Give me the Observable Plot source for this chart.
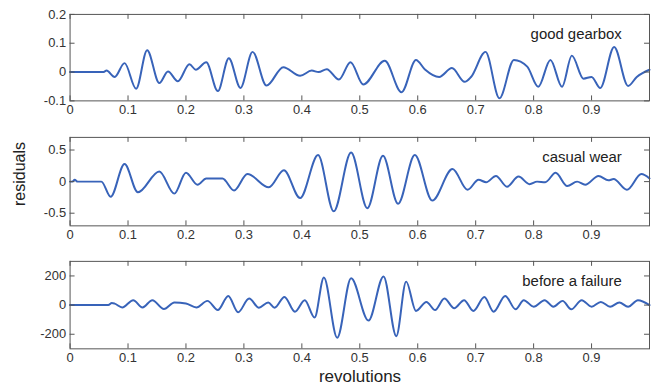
<!DOCTYPE html>
<html><head><meta charset="utf-8">
<script src="https://cdn.jsdelivr.net/npm/d3@7"></script>
<script src="https://cdn.jsdelivr.net/npm/@observablehq/plot@0.6"></script>
<style>
body{margin:0;background:#fff;}
#wrap{position:relative;width:651px;height:389px;overflow:hidden;font-family:"Liberation Sans",Arial,sans-serif;background:#fff;}
#wrap svg{position:absolute;left:0;overflow:visible;}
.lab{position:absolute;color:#222;white-space:nowrap;line-height:1;}
</style></head><body><div id="wrap"></div>
<script>
// shared x ticks (revolutions)
const xTicks = [0, 0.1, 0.2, 0.3, 0.4, 0.5, 0.6, 0.7, 0.8, 0.9];

// panel 1: good gearbox
const goodTitle = "good gearbox";
const goodTicks = [-0.1, 0, 0.1, 0.2];
const goodX = [0, 0.057, 0.063, 0.077, 0.094, 0.114, 0.133, 0.154, 0.169, 0.186, 0.206, 0.217, 0.235, 0.255, 0.274, 0.294, 0.315, 0.339, 0.368, 0.397, 0.417, 0.429, 0.443, 0.464, 0.484, 0.506, 0.543, 0.572, 0.597, 0.612, 0.637, 0.659, 0.681, 0.692, 0.717, 0.741, 0.766, 0.789, 0.808, 0.829, 0.849, 0.866, 0.886, 0.900, 0.915, 0.939, 0.963, 0.978, 1.0];
const goodY = [0, 0, 0.005, -0.017, 0.031, -0.058, 0.076, -0.038, 0.002, -0.032, 0.027, 0.008, 0.034, -0.066, 0.048, -0.055, 0.070, -0.047, 0.017, -0.013, 0.005, 0.0, 0.01, -0.026, 0.034, -0.043, 0.039, -0.07, 0.042, 0.01, -0.017, 0.014, -0.034, -0.017, 0.070, -0.091, 0.042, 0.019, -0.051, 0.042, -0.051, 0.057, -0.023, -0.017, -0.055, 0.087, -0.048, -0.017, 0.008];

// panel 2: casual wear
const wearTitle = "casual wear";
const wearTicks = [-0.5, 0, 0.5];
const wearX = [0, 0.004, 0.008, 0.013, 0.054, 0.070, 0.094, 0.117, 0.154, 0.180, 0.200, 0.220, 0.235, 0.263, 0.283, 0.306, 0.343, 0.369, 0.397, 0.428, 0.455, 0.485, 0.513, 0.540, 0.566, 0.595, 0.625, 0.660, 0.686, 0.705, 0.718, 0.735, 0.754, 0.774, 0.793, 0.806, 0.820, 0.838, 0.858, 0.875, 0.889, 0.912, 0.929, 0.938, 0.961, 0.986, 1.0];
const wearY = [0, 0, 0.03, 0, 0, -0.24, 0.28, -0.17, 0.16, -0.19, 0.14, -0.05, 0.05, 0.05, -0.14, 0.12, -0.09, 0.18, -0.26, 0.42, -0.47, 0.46, -0.42, 0.41, -0.35, 0.42, -0.30, 0.20, -0.13, 0.03, -0.01, 0.09, -0.08, 0.08, -0.04, 0.0, -0.01, 0.14, -0.07, 0.0, -0.05, 0.09, 0.02, 0.04, -0.13, 0.12, 0.05];

// panel 3: before a failure
const failTitle = "before a failure";
const failTicks = [-200, 0, 200];
const failX = [0, 0.066, 0.072, 0.077, 0.090, 0.109, 0.125, 0.142, 0.162, 0.180, 0.200, 0.218, 0.237, 0.255, 0.273, 0.290, 0.309, 0.326, 0.342, 0.353, 0.370, 0.388, 0.405, 0.422, 0.438, 0.461, 0.485, 0.515, 0.541, 0.563, 0.580, 0.597, 0.615, 0.630, 0.646, 0.663, 0.680, 0.696, 0.715, 0.731, 0.751, 0.769, 0.783, 0.800, 0.819, 0.834, 0.850, 0.865, 0.883, 0.900, 0.916, 0.932, 0.948, 0.963, 0.980, 1.0];
const failY = [0, 0, 14, 10, -16, 34, -16, 34, -27, 18, 11, -16, 29, -34, 63, -49, 45, -18, 18, -18, 56, -45, 34, -85, 190, -224, 184, -106, 197, -213, 161, -40, 22, -34, 45, -22, 34, -40, 56, -45, 63, -29, 34, -11, 34, -11, 29, -29, 34, -11, 22, -11, 18, -11, 34, 0];

const xLabel = "revolutions";
const yLabel = "residuals";

const W = 655, ML = 70, MR = 2;
const frameColor = "#555";
const lineColor = "#3863b9";

function panel(xs, ys, yDomain, yTicks, title, top, height, mt, mb) {
  const data = xs.map((x, i) => ({x, y: ys[i]}));
  const innerH = height - mt - mb;
  const innerW = W - ML - MR;
  const svg = Plot.plot({
    width: W, height, marginLeft: ML, marginRight: MR, marginTop: mt, marginBottom: mb,
    style: {fontSize: "13px", fontFamily: "Liberation Sans, Arial, sans-serif", color: "#333", background: "transparent", overflow: "visible"},
    x: {domain: [0, 1]},
    y: {domain: yDomain},
    marks: [
      Plot.line(data, {x: "x", y: "y", stroke: lineColor, strokeWidth: 2, curve: "monotone-x"}),
      Plot.frame({stroke: frameColor, strokeWidth: 1}),
      Plot.tickX(xTicks, {x: d => d, insetTop: innerH - 5, stroke: frameColor}),
      Plot.tickX(xTicks, {x: d => d, insetBottom: innerH - 5, stroke: frameColor}),
      Plot.tickY(yTicks, {y: d => d, insetRight: innerW - 5, stroke: frameColor}),
      Plot.tickY(yTicks, {y: d => d, insetLeft: innerW - 5, stroke: frameColor}),
      Plot.axisX(xTicks, {tickSize: 0, tickPadding: 4, tickFormat: d => String(d), label: null}),
      Plot.axisY(yTicks, {tickSize: 0, tickPadding: 4, tickFormat: d => String(d), label: null}),
      Plot.text([title], {frameAnchor: "top-right", dx: -28, dy: 20, textAnchor: "end", lineAnchor: "middle", fontSize: 15, fill: "#222"})
    ]
  });
  svg.style.top = top + "px";
  return svg;
}

const wrap = document.getElementById("wrap");
wrap.appendChild(panel(goodX, goodY, [-0.1, 0.2], goodTicks, goodTitle, 0, 120, 14, 19));
wrap.appendChild(panel(wearX, wearY, [-0.7, 0.7], wearTicks, wearTitle, 120, 120, 17, 14));
wrap.appendChild(panel(failX, failY, [-300, 300], failTicks, failTitle, 240, 130, 21, 21));

const yl = document.createElement("div");
yl.className = "lab";
yl.textContent = yLabel;
yl.style.cssText += "font-size:16px;left:19.5px;top:174px;transform:translate(-50%,-50%) rotate(-90deg);";
wrap.appendChild(yl);

const xl = document.createElement("div");
xl.className = "lab";
xl.textContent = xLabel;
xl.style.cssText += "font-size:17px;left:360px;top:376px;transform:translate(-50%,-50%);";
wrap.appendChild(xl);
</script>
</body></html>
